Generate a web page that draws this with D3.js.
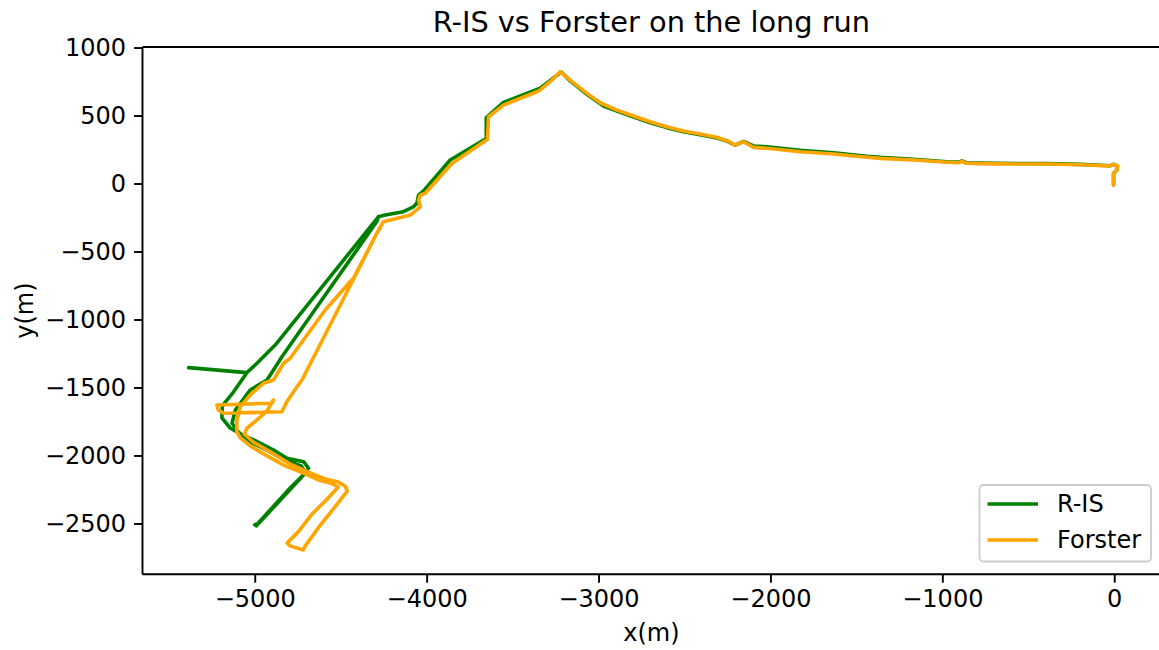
<!DOCTYPE html>
<html>
<head>
<meta charset="utf-8">
<script src="https://cdn.jsdelivr.net/npm/d3@7"></script>
<style>
  html, body { margin: 0; padding: 0; background: #fff; }
  svg { display: block; font-family: "DejaVu Sans", sans-serif; }
</style>
</head>
<body>
<svg id="chart" width="1159" height="650"></svg>
<script>
// ---------------- data ----------------
const chartTitle = "R-IS vs Forster on the long run";
const xLabel = "x(m)";
const yLabel = "y(m)";
const seriesNames = ["R-IS", "Forster"];
const seriesColors = ["#008000", "#FFA500"];
const xTicks = [-5000, -4000, -3000, -2000, -1000, 0];
const yTicks = [-2500, -2000, -1500, -1000, -500, 0, 500, 1000];
const xDomain = [-5653, 268];
const yDomain = [-2874, 1004];

// R-IS trajectory [x, y] in metres
const risPath = [
  [-4, -11], [-4, 75], [16, 99], [19, 129], [-4, 141], [-23, 131],
  [-198, 141], [-392, 146], [-586, 147], [-780, 150], [-861, 153], [-886, 167],
  [-906, 157], [-973, 160], [-1168, 178], [-1361, 192], [-1439, 200], [-1633, 226],
  [-1827, 245], [-2020, 270], [-2098, 276], [-2157, 309], [-2205, 282], [-2253, 312],
  [-2312, 335], [-2409, 358], [-2506, 380], [-2603, 411], [-2700, 447], [-2796, 489],
  [-2893, 533], [-2971, 570], [-3068, 656], [-3165, 755], [-3217, 820],
  [-3339, 702], [-3553, 596], [-3653, 485], [-3653, 331], [-3863, 173],
  [-4018, -55], [-4047, -85], [-4057, -146], [-4077, -171], [-4135, -207],
  [-4241, -232], [-4280, -244],
  [-4881, -1188], [-4987, -1322], [-5046, -1391], [-5385, -1354], [-5046, -1391],
  [-5131, -1546], [-5189, -1636], [-5191, -1724], [-5143, -1798], [-5084, -1842],
  [-5006, -1886], [-4890, -1960], [-4813, -2021], [-4716, -2046], [-4687, -2094],
  [-4716, -2143], [-4794, -2239], [-4910, -2401], [-4985, -2504], [-5000, -2510],
  [-4990, -2518], [-4978, -2500],
  [-4736, -2172], [-4706, -2121], [-4730, -2077], [-4823, -2033], [-4910, -1974],
  [-5015, -1908], [-5096, -1827], [-5132, -1763], [-5113, -1666], [-5026, -1518],
  [-4929, -1445], [-4891, -1371], [-4842, -1274], [-4290, -280], [-4280, -244]
];

// Forster trajectory [x, y] in metres
const forsterPath = [
  [-4, -11], [-4, 75], [16, 99], [19, 129], [-4, 141], [-23, 129],
  [-198, 138], [-392, 143], [-586, 143], [-780, 146], [-861, 149], [-886, 163],
  [-906, 153], [-973, 156], [-1168, 173], [-1361, 185], [-1439, 193], [-1633, 217],
  [-1827, 234], [-2020, 259], [-2098, 266], [-2157, 307], [-2205, 283], [-2253, 315],
  [-2312, 340], [-2409, 364], [-2506, 386], [-2603, 418], [-2700, 454], [-2796, 496],
  [-2893, 540], [-2990, 594], [-3068, 663], [-3165, 761], [-3223, 822],
  [-3271, 761], [-3339, 688], [-3358, 675], [-3553, 577], [-3640, 491],
  [-3646, 325], [-3853, 147], [-4008, -72], [-4037, -85], [-4047, -121],
  [-4037, -171], [-4095, -232], [-4251, -281], [-4280, -342],
  [-4725, -1445], [-4754, -1494], [-4813, -1604], [-4842, -1678],
  [-5181, -1690], [-5212, -1665], [-5220, -1629], [-4900, -1616], [-4892, -1592],
  [-4928, -1673], [-4987, -1739], [-5044, -1798], [-5061, -1842],
  [-5009, -1901], [-4910, -1974], [-4794, -2063], [-4677, -2129], [-4590, -2173],
  [-4514, -2196], [-4473, -2226], [-4462, -2263],
  [-4561, -2423], [-4631, -2533], [-4706, -2665], [-4718, -2695],
  [-4794, -2665], [-4811, -2643],
  [-4747, -2562], [-4666, -2430], [-4584, -2327], [-4514, -2232],
  [-4561, -2202], [-4631, -2180], [-4706, -2136], [-4823, -2077], [-4939, -1996],
  [-5026, -1930], [-5084, -1871], [-5104, -1825],
  [-5104, -1739], [-5084, -1641], [-5026, -1555], [-4949, -1469], [-4891, -1445],
  [-4832, -1322], [-4794, -1285], [-4590, -930], [-4445, -722], [-4426, -697],
  [-4290, -366], [-4270, -327]
];

const seriesPaths = [risPath, forsterPath];

// ---------------- layout ----------------
const svg = d3.select("#chart");
const plot = { left: 142.5, right: 1160.3, top: 47, bottom: 574.3 };
const fontSize = 24;

const x = d3.scaleLinear().domain(xDomain).range([plot.left, plot.right]);
const y = d3.scaleLinear().domain(yDomain).range([plot.bottom, plot.top]);

const fmt = d => String(d).replace("-", "\u2212");

// lines
const line = d3.line().x(d => x(d[0])).y(d => y(d[1]));
const g = svg.append("g");
seriesPaths.forEach((p, i) => {
  g.append("path")
    .datum(p)
    .attr("d", line)
    .attr("fill", "none")
    .attr("stroke", seriesColors[i])
    .attr("stroke-width", 3.6)
    .attr("stroke-linejoin", "round")
    .attr("stroke-linecap", "round");
});

// axes
const xAxis = svg.append("g")
  .attr("transform", `translate(0,${plot.bottom})`)
  .call(d3.axisBottom(x).tickValues(xTicks).tickFormat(fmt).tickSize(8.4).tickPadding(7));
const yAxis = svg.append("g")
  .attr("transform", `translate(${plot.left},0)`)
  .call(d3.axisLeft(y).tickValues(yTicks).tickFormat(fmt).tickSize(8.4).tickPadding(8));
[xAxis, yAxis].forEach(a => {
  a.select(".domain").remove();
  a.selectAll(".tick line").attr("stroke", "#000").attr("stroke-width", 1.9);
  a.selectAll(".tick text")
    .attr("fill", "#000")
    .style("font-family", "'DejaVu Sans', sans-serif")
    .style("font-size", fontSize + "px");
});

// spines
const spines = svg.append("g").attr("stroke", "#000").attr("stroke-width", 1.9).attr("fill", "none");
spines.append("line").attr("x1", plot.left).attr("x2", plot.left).attr("y1", plot.top).attr("y2", plot.bottom);
spines.append("line").attr("x1", plot.left).attr("x2", plot.right).attr("y1", plot.bottom).attr("y2", plot.bottom);
spines.append("line").attr("x1", plot.left).attr("x2", plot.right).attr("y1", plot.top).attr("y2", plot.top);
spines.append("line").attr("x1", plot.right).attr("x2", plot.right).attr("y1", plot.top).attr("y2", plot.bottom);

// labels
svg.append("text")
  .attr("x", (plot.left + plot.right) / 2)
  .attr("y", 32)
  .attr("text-anchor", "middle")
  .style("font-size", "28.8px")
  .text(chartTitle);
svg.append("text")
  .attr("x", (plot.left + plot.right) / 2)
  .attr("y", 641)
  .attr("text-anchor", "middle")
  .style("font-size", fontSize + "px")
  .text(xLabel);
svg.append("text")
  .attr("transform", `translate(33,${(plot.top + plot.bottom) / 2}) rotate(-90)`)
  .attr("text-anchor", "middle")
  .style("font-size", fontSize + "px")
  .text(yLabel);

// legend
const leg = svg.append("g");
leg.append("rect")
  .attr("x", 979.5).attr("y", 485).attr("width", 171.5).attr("height", 76.5)
  .attr("rx", 4).attr("ry", 4)
  .attr("fill", "#fff").attr("fill-opacity", 0.8)
  .attr("stroke", "#cccccc").attr("stroke-width", 1.8);
seriesNames.forEach((name, i) => {
  const cy = 504 + i * 36;
  leg.append("line")
    .attr("x1", 987.5).attr("x2", 1038).attr("y1", cy).attr("y2", cy)
    .attr("stroke", seriesColors[i]).attr("stroke-width", 3.6);
  leg.append("text")
    .attr("x", 1057).attr("y", cy).attr("dy", "0.35em")
    .style("font-size", fontSize + "px")
    .text(name);
});
</script>
</body>
</html>
